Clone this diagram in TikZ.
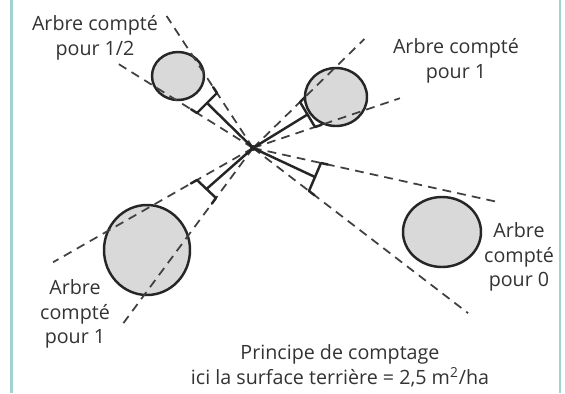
\documentclass[tikz,border=0pt]{standalone}
\usepackage{fontspec}
\setmainfont{Open Sans}
\usetikzlibrary{calc}

\definecolor{frame}{RGB}{160,212,206}

\begin{document}
\begin{tikzpicture}[x=0.02cm, y=-0.02cm,
    tree/.style={draw=black!85, fill=black!15, line width=1.4pt},
    rod/.style={draw=black!85, line width=1.4pt, line cap=round, line join=round},
    sight/.style={draw=black!75, line width=1pt, dash pattern=on 5pt off 3.5pt},
    lbl/.style={font=\fontsize{11.2}{14}\selectfont, text=black!80, align=center}]
  \useasboundingbox (0,0) rectangle (565,393);
  \draw[frame, line width=1.7pt] (11.5,0) -- (11.5,393);
  \draw[frame, line width=1.7pt] (560,0) -- (560,393);

  \coordinate (O) at (253,148);
  \draw[tree] (178,76) circle [x radius=26, y radius=24];
  \draw[tree] (336,97) circle [x radius=31, y radius=29];
  \draw[tree] (147,250) circle [x radius=43, y radius=45];
  \draw[tree] (442,232) circle [x radius=39, y radius=35];

  \foreach \n/\ax/\ay/\bx/\by/\fa/\fb in {h/197/113/217/93/2.4/2.4,
      u/300/102/315/127/2.37/2.37, z/321/163/309/191/3.6/3.84,
      l/197/180/216/198/3.57/3.54}{
    \coordinate (\n A) at (\ax,\ay);
    \coordinate (\n B) at (\bx,\by);
    \coordinate (\n a) at ($(O)!\fa!(\n A)$);
    \coordinate (\n b) at ($(O)!\fb!(\n B)$);
    \draw[sight] (O) -- (\n a);
    \draw[sight] (O) -- (\n b);
    \draw[rod] (O) -- ($(\n A)!0.5!(\n B)$);
    \draw[rod] ($(\n A)!4pt!(\n a)$) -- (\n A) -- (\n B) -- ($(\n B)!4pt!(\n b)$);
  }
  \fill[black!85] (O) circle [radius=3];

  \node[lbl] (hlbl) at (95,38) {Arbre compté\\pour 1/2};
  \node[lbl] (ulbl) at (456,61) {Arbre compté\\pour 1};
  \node[lbl] (llbl) at (75,314) {Arbre\\compté\\pour 1};
  \node[lbl] (zlbl) at (519,257) {Arbre\\compté\\pour 0};
  \node[lbl] (title) at (340,366) {Principe de comptage\\ici la surface terrière = 2,5 m\textsuperscript{2}/ha};
\end{tikzpicture}
\end{document}
